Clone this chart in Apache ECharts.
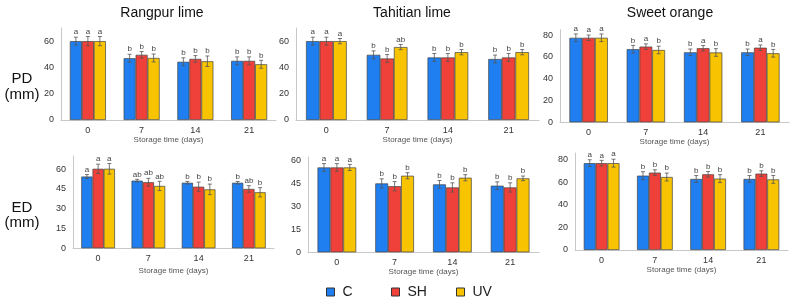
<!DOCTYPE html>
<html>
<head>
<meta charset="utf-8">
<script src="https://cdn.jsdelivr.net/npm/echarts@6/dist/echarts.min.js"></script>
<style>
  html, body { margin: 0; padding: 0; background: #fff; }
  #chart { width: 800px; height: 304px; }
</style>
</head>
<body>
<div id="chart"></div>
<script>
var days = ['0', '7', '14', '21'];
var treatments = ['C', 'SH', 'UV'];
var colors = ['#1f7ff0', '#f0403a', '#f8c300'];
var legendLeft = [326, 391, 456];

// rows: C, SH, UV ; columns: day 0, 7, 14, 21
var rangpurPD = [[60, 47, 44.3, 45], [60, 49.6, 46.5, 45], [60, 47.2, 44.7, 42.4]];
var rangpurPDErr = [[3, 3, 3, 3], [3.5, 2.5, 2.5, 3], [3.5, 3, 4, 3]];
var rangpurPDLet = [['a', 'b', 'b', 'b'], ['a', 'b', 'b', 'b'], ['a', 'b', 'b', 'b']];

var tahitiPD = [[60, 49.6, 47.6, 46.4], [60, 46.8, 47.6, 47.6], [60, 55.5, 51.6, 51.6]];
var tahitiPDErr = [[3, 3, 3, 3], [3, 3, 3, 3], [2, 2, 2, 2]];
var tahitiPDLet = [['a', 'b', 'b', 'b'], ['a', 'b', 'b', 'b'], ['a', 'ab', 'b', 'b']];

var orangePD = [[77.5, 67, 64.2, 64.2], [77.5, 69.4, 67.9, 68.4], [77.5, 66.3, 64, 63.3]];
var orangePDErr = [[3.5, 3.5, 3, 3], [2.5, 2.5, 2.5, 2.5], [3.5, 3.5, 3.5, 3.5]];
var orangePDLet = [['a', 'b', 'b', 'b'], ['a', 'a', 'a', 'a'], ['a', 'b', 'b', 'b']];

var rangpurED = [[54.4, 51.3, 49.7, 49.7], [60.3, 50.1, 46.7, 45], [60.3, 47.3, 44.7, 42.5]];
var rangpurEDErr = [[1.5, 1, 1, 1], [3.5, 3, 3.5, 2.5], [4, 3.5, 4, 3.5]];
var rangpurEDLet = [['a', 'ab', 'b', 'b'], ['a', 'ab', 'b', 'ab'], ['a', 'ab', 'b', 'b']];

var tahitiED = [[55.2, 44.8, 44.2, 43.3], [55.2, 43, 42.2, 42.2], [55.2, 49.8, 48.5, 48.1]];
var tahitiEDErr = [[2.5, 3, 2.5, 2.5], [2.5, 3, 3, 3], [2, 2, 2, 1.5]];
var tahitiEDLet = [['a', 'b', 'b', 'b'], ['a', 'b', 'b', 'b'], ['a', 'b', 'b', 'b']];

var orangeED = [[77, 65.9, 63, 63], [77, 68.6, 67.1, 67.7], [77, 64.7, 63.3, 62.6]];
var orangeEDErr = [[3, 3.5, 3, 3], [2.5, 2.5, 2.5, 2.5], [3.5, 3.5, 3.5, 3.5]];
var orangeEDLet = [['a', 'b', 'b', 'b'], ['a', 'b', 'b', 'b'], ['a', 'b', 'b', 'b']];

var fontFam = '"Liberation Sans", Arial, sans-serif';
var gapRatio = 0.33;

var panels = [
    { vals: rangpurPD, err: rangpurPDErr, lets: rangpurPDLet, max: 70, interval: 20, nameGap: 16,
      grid: { left: 61, top: 28, width: 215, height: 92 } },
    { vals: tahitiPD, err: tahitiPDErr, lets: tahitiPDLet, max: 70, interval: 20, nameGap: 16,
      grid: { left: 296, top: 28, width: 243, height: 92 } },
    { vals: orangePD, err: orangePDErr, lets: orangePDLet, max: 85, interval: 20, nameGap: 14,
      grid: { left: 560, top: 29.6, width: 229, height: 92.7 } },
    { vals: rangpurED, err: rangpurEDErr, lets: rangpurEDLet, max: 70, interval: 15, nameGap: 18,
      grid: { left: 73, top: 156, width: 201, height: 92.3 } },
    { vals: tahitiED, err: tahitiEDErr, lets: tahitiEDLet, max: 62, interval: 15, nameGap: 15,
      grid: { left: 308, top: 157, width: 231, height: 95.3 } },
    { vals: orangeED, err: orangeEDErr, lets: orangeEDLet, max: 86, interval: 20, nameGap: 16,
      grid: { left: 575, top: 153, width: 213, height: 97 } }
];

var grids = [], xAxes = [], yAxes = [], series = [];

panels.forEach(function (p, pi) {
    grids.push(p.grid);
    xAxes.push({
        type: 'category', gridIndex: pi, data: days,
        name: 'Storage time (days)', nameLocation: 'middle', nameGap: p.nameGap,
        nameTextStyle: { fontSize: 8, color: '#555', fontFamily: fontFam },
        axisLine: { lineStyle: { color: '#c8c8c8', width: 1 } },
        axisTick: { show: false },
        axisLabel: { fontSize: 9, color: '#333', margin: 6, fontFamily: fontFam }
    });
    yAxes.push({
        type: 'value', gridIndex: pi, min: 0, max: p.max, interval: p.interval,
        axisLine: { show: true, lineStyle: { color: '#c8c8c8', width: 1 } },
        axisTick: { show: false },
        splitLine: { show: false },
        axisLabel: {
            fontSize: 9, color: '#333', margin: 7, fontFamily: fontFam,
            formatter: function (v) { return v % p.interval === 0 ? v : ''; }
        }
    });
    treatments.forEach(function (t, s) {
        series.push({
            type: 'bar', name: t, xAxisIndex: pi, yAxisIndex: pi,
            data: p.vals[s],
            barGap: '0%', barCategoryGap: (gapRatio * 100) + '%',
            itemStyle: { color: colors[s], borderColor: '#444', borderWidth: 0.7 },
            emphasis: { disabled: true },
            silent: true
        });
    });
    treatments.forEach(function (t, s) {
        var data = p.vals[s].map(function (v, i) { return [i, v, p.err[s][i]]; });
        series.push({
            type: 'custom', xAxisIndex: pi, yAxisIndex: pi, z: 5, silent: true,
            data: data,
            renderItem: function (params, api) {
                var ci = api.value(0), v = api.value(1), e = api.value(2);
                var band = api.size([1, 0])[0];
                var bw = band * (1 - gapRatio) / 3;
                var cx = api.coord([ci, v])[0] + (s - 1) * bw;
                var yt = api.coord([ci, v + e])[1];
                var yb = api.coord([ci, v - e])[1];
                var st = { stroke: '#555', lineWidth: 0.8 };
                return {
                    type: 'group',
                    children: [
                        { type: 'line', shape: { x1: cx, y1: yt, x2: cx, y2: yb }, style: st },
                        { type: 'line', shape: { x1: cx - 2, y1: yt, x2: cx + 2, y2: yt }, style: st },
                        { type: 'line', shape: { x1: cx - 2, y1: yb, x2: cx + 2, y2: yb }, style: st },
                        { type: 'text', x: cx, y: yt - 1,
                          style: { text: p.lets[s][ci], textAlign: 'center', textVerticalAlign: 'bottom',
                                   font: '8px ' + fontFam, fill: '#444' } }
                    ]
                };
            }
        });
    });
});

var titles = [
    { text: 'Rangpur lime', x: 162 },
    { text: 'Tahitian lime', x: 412 },
    { text: 'Sweet orange', x: 670 }
];
var sideLabels = [
    { text: 'PD', y: 79 }, { text: '(mm)', y: 95 },
    { text: 'ED', y: 208 }, { text: '(mm)', y: 223 }
];

var graphics = [];
titles.forEach(function (t) {
    graphics.push({ type: 'text', x: t.x, y: 13,
        style: { text: t.text, textAlign: 'center', textVerticalAlign: 'middle',
                 font: '14px ' + fontFam, fill: '#111' } });
});
sideLabels.forEach(function (t) {
    graphics.push({ type: 'text', x: 22, y: t.y,
        style: { text: t.text, textAlign: 'center', textVerticalAlign: 'middle',
                 font: '15px ' + fontFam, fill: '#111' } });
});

var legends = treatments.map(function (t, s) {
    return {
        data: [t], left: legendLeft[s], top: 285, padding: 0,
        icon: 'rect', itemWidth: 8, itemHeight: 8, itemGap: 0,
        itemStyle: { borderColor: '#333', borderWidth: 1 },
        textStyle: { fontSize: 14, color: '#222', fontFamily: fontFam, padding: [0, 0, 0, 3] },
        selectedMode: false
    };
});

var chart = echarts.init(document.getElementById('chart'), null, { renderer: 'canvas' });
chart.setOption({
    animation: false,
    backgroundColor: '#fff',
    grid: grids,
    xAxis: xAxes,
    yAxis: yAxes,
    legend: legends,
    graphic: graphics,
    series: series
});
</script>
</body>
</html>
